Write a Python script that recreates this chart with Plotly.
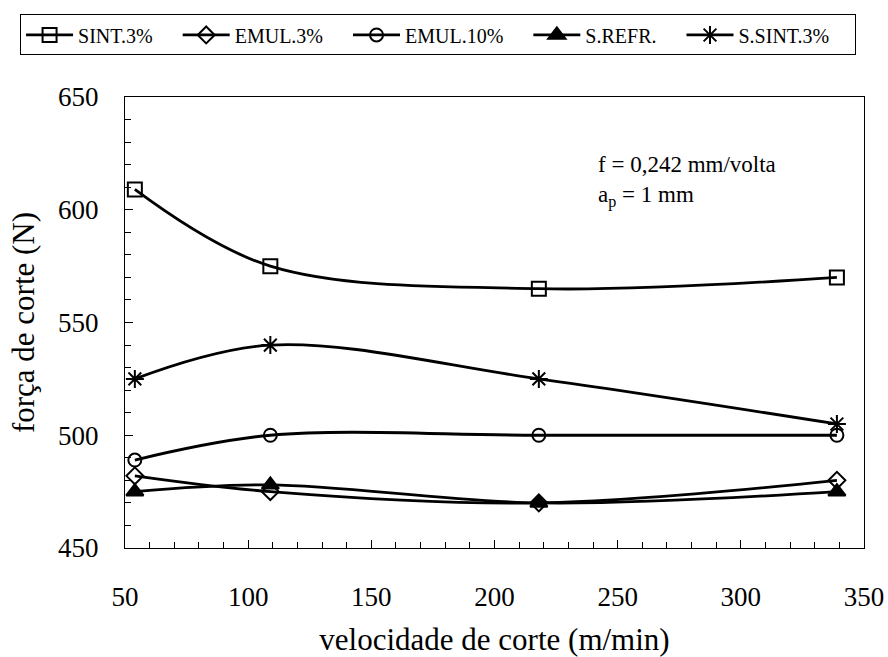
import plotly.graph_objects as go

# cutting speed (m/min)
speeds = [54, 109, 218, 339]

# cutting force (N) for each cutting fluid condition
sint_3 = [609, 575, 565, 570]
emul_3 = [482, 475, 470, 480]
emul_10 = [489, 500, 500, 500]
s_refr = [475, 478, 470, 475]
s_sint_3 = [525, 540, 525, 505]

series = [
    ("SINT.3%", sint_3, "square-open", 14),
    ("EMUL.3%", emul_3, "diamond-open", 13),
    ("EMUL.10%", emul_10, "circle-open", 13),
    ("S.REFR.", s_refr, "triangle-up", 15),
    ("S.SINT.3%", s_sint_3, "asterisk-open", 15),
]

FONT = "Times New Roman, Liberation Serif, serif"
PAD = "\u00a0" * 4  # extra room after each legend label

fig = go.Figure()
for name, vals, sym, size in series:
    fig.add_trace(go.Scatter(
        x=speeds, y=vals, name=name + PAD, mode="lines+markers",
        line=dict(color="black", width=2.8, shape="spline", smoothing=1.0),
        marker=dict(symbol=sym, size=size, color="black",
                    line=dict(color="black", width=2)),
    ))

fig.add_annotation(
    x=241, y=612.5, xref="x", yref="y", xanchor="left", yanchor="middle",
    align="left", showarrow=False,
    text="f = 0,242 mm/volta<br>a<sub>p</sub> = 1 mm",
    font=dict(family=FONT, size=23, color="black"),
)

axis_common = dict(
    showline=True, linecolor="black", linewidth=1.3, mirror=True,
    showgrid=False, zeroline=False,
    ticks="inside", ticklen=8, tickwidth=1.2, tickcolor="black",
    tickfont=dict(family=FONT, size=27, color="black"),
)

fig.update_xaxes(
    range=[50, 350], dtick=50, tick0=50,
    minor=dict(ticks="inside", dtick=10, ticklen=6, tickwidth=1, tickcolor="black"),
    ticklabelstandoff=24,
    title=dict(text="velocidade de corte (m/min)", standoff=22,
               font=dict(family=FONT, size=31, color="black")),
    **axis_common,
)
fig.update_yaxes(
    range=[450, 650], dtick=50, tick0=450,
    minor=dict(ticks="inside", dtick=10, ticklen=6, tickwidth=1, tickcolor="black"),
    ticklabelstandoff=20,
    title=dict(text="força de corte (N)", standoff=14,
               font=dict(family=FONT, size=31, color="black")),
    **axis_common,
)

fig.update_layout(
    width=888, height=657,
    font=dict(family=FONT, color="black"),
    margin=dict(l=125, r=24, t=97, b=109, autoexpand=False),
    paper_bgcolor="white", plot_bgcolor="white",
    showlegend=True,
    # anchored left of the plot area so the single-row legend may span the page
    legend=dict(
        orientation="h", x=-0.142, xanchor="left", y=1.183, yanchor="top",
        bordercolor="black", borderwidth=1, bgcolor="white",
        font=dict(family=FONT, size=20, color="black"),
        itemwidth=47, tracegroupgap=0,
    ),
)

fig.write_html("out.html")
